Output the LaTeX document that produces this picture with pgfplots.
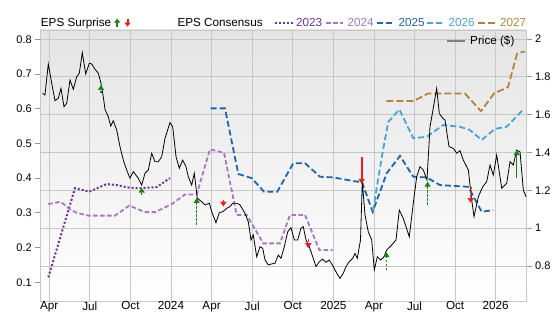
\documentclass[border=0pt]{standalone}
\usepackage{fontspec}
\setmainfont{Liberation Sans}
\usepackage{pgfplots}
\usepackage{pgfplotstable}
\pgfplotsset{compat=1.18}
\usetikzlibrary{arrows.meta}
\definecolor{cA}{RGB}{110,50,150}
\definecolor{cB}{RGB}{165,120,195}
\definecolor{cC}{RGB}{30,100,175}
\definecolor{cD}{RGB}{70,165,215}
\definecolor{cE}{RGB}{180,130,60}
\definecolor{gridc}{RGB}{200,200,200}
\definecolor{tickc}{RGB}{150,150,150}
\definecolor{bgtop}{RGB}{228,228,228}
\definecolor{bgmid}{RGB}{248,248,248}
\definecolor{upc}{RGB}{25,130,25}
\definecolor{dnc}{RGB}{235,30,30}

\pgfplotstableread{
m p
2.517 1.713
2.687 1.704
2.931 1.868
3.183 1.766
3.426 1.674
3.670 1.687
3.870 1.739
4.092 1.642
4.291 1.660
4.535 1.783
4.779 1.734
5.030 1.801
5.222 1.819
5.444 1.928
5.696 1.815
5.962 1.872
6.139 1.868
6.383 1.840
6.627 1.819
6.826 1.766
6.996 1.695
7.122 1.628
7.366 1.589
7.543 1.540
7.735 1.568
7.987 1.519
8.231 1.431
8.475 1.360
8.674 1.317
8.970 1.264
9.214 1.299
9.583 1.264
9.834 1.228
10.078 1.290
10.322 1.308
10.574 1.396
10.817 1.351
11.061 1.351
11.313 1.378
11.557 1.475
11.926 1.558
12.126 1.536
12.370 1.378
12.613 1.317
12.865 1.360
13.109 1.325
13.279 1.272
13.530 1.228
13.722 1.290
13.944 1.158
14.269 1.140
14.513 1.123
14.831 1.132
15.008 1.087
15.326 1.029
15.570 1.082
15.821 1.087
16.117 1.105
16.361 1.114
16.560 1.132
16.856 1.132
17.100 1.123
17.469 1.079
17.713 1.034
17.913 0.938
18.083 0.964
18.334 0.849
18.578 0.902
18.778 0.894
18.948 0.832
19.191 0.806
19.443 0.811
19.687 0.815
19.931 0.858
20.130 0.841
20.374 0.902
20.625 0.981
20.869 1.003
21.113 0.938
21.364 0.938
21.608 1.000
21.778 1.008
21.978 0.938
22.222 0.902
22.473 0.849
22.717 0.797
22.961 0.823
23.212 0.836
23.456 0.820
23.700 0.832
23.996 0.797
24.247 0.762
24.491 0.735
24.735 0.762
24.934 0.797
25.178 0.823
25.429 0.841
25.599 0.867
25.770 0.841
26.006 0.938
26.139 1.246
26.338 1.070
26.582 0.981
26.834 0.938
27.026 0.779
27.248 0.849
27.499 0.832
27.743 0.849
27.942 0.885
28.312 0.911
28.630 0.938
28.874 1.096
29.169 1.052
29.369 1.008
29.613 0.955
29.908 1.132
30.160 1.272
30.403 1.325
30.647 1.308
30.920 1.255
31.143 1.536
31.638 1.739
31.830 1.607
32.081 1.581
32.251 1.572
32.547 1.431
32.865 1.422
33.116 1.396
33.360 1.410
33.604 1.360
33.974 1.308
34.225 1.149
34.395 1.061
34.713 1.166
35.038 1.219
35.334 1.246
35.578 1.334
35.822 1.281
36.073 1.387
36.443 1.211
36.812 1.237
37.056 1.351
37.300 1.334
37.552 1.413
37.796 1.404
38.040 1.202
38.240 1.166
}\price

\pgfplotstableread{
m v
2.930 0.114
4.905 0.371
5.962 0.361
7.248 0.383
7.987 0.380
8.970 0.372
9.709 0.371
10.943 0.374
11.926 0.400
}\epsA

\pgfplotstableread{
m v
2.930 0.325
3.848 0.332
4.535 0.310
5.030 0.300
5.888 0.292
7.861 0.292
8.918 0.321
10.078 0.302
10.817 0.302
12.052 0.325
13.035 0.353
13.899 0.353
14.882 0.483
15.917 0.473
16.856 0.294
17.595 0.294
18.822 0.212
20.056 0.212
20.795 0.294
21.904 0.294
22.961 0.193
23.951 0.193
}\epsB

\pgfplotstableread{
m v
14.934 0.601
15.991 0.601
16.974 0.412
17.965 0.400
18.874 0.361
19.857 0.361
21.039 0.443
21.904 0.443
23.013 0.404
23.996 0.402
25.725 0.390
26.100 0.390
26.907 0.303
27.942 0.414
28.925 0.464
29.908 0.404
30.899 0.402
31.882 0.380
33.974 0.375
34.964 0.303
35.822 0.308
}\epsC

\pgfplotstableread{
m v
26.930 0.305
27.300 0.395
27.669 0.481
28.061 0.562
28.874 0.598
29.908 0.515
30.899 0.519
32.126 0.553
33.360 0.548
34.078 0.539
34.964 0.510
35.947 0.542
36.812 0.548
37.920 0.593
38.164 0.593
}\epsD

\pgfplotstableread{
m v
27.913 0.622
29.908 0.622
31.017 0.644
33.730 0.644
34.912 0.593
35.873 0.644
36.907 0.662
37.573 0.758
37.994 0.764
38.164 0.764
}\epsE

\pgfplotstableread{
m p d
6.826 1.713 0.044
9.834 1.175 0.039
13.899 1.017 0.143
27.913 0.779 0.095
30.965 1.123 0.123
}\upd
\pgfplotstableread{
m p d
37.550 1.265 0.148
}\ups
\pgfplotstableread{
m p d
15.870 1.149 -0.035
22.148 0.941 -0.047
34.152 1.219 -0.086
}\dnd
\pgfplotstableread{
m p d
26.095 1.376 -0.142
}\dns

\tikzset{lbl/.style={font=\fontsize{11.7}{13}\selectfont}}
\pgfplotsset{
  base/.style={scale only axis, width=486.4pt, height=271pt,
    at={(40.3pt,14pt)}, anchor=south west, xmin=2.34, xmax=38.29},
}

\begin{document}
\begin{tikzpicture}
\useasboundingbox (0pt,0pt) rectangle (556pt,315pt);
% price scale: background, grid, right ticks
\begin{axis}[base, ymin=0.6152, ymax=2.0476,
  axis background/.style={shade, top color=bgtop, middle color=bgmid, bottom color=white},
  axis line style={draw=gridc, line width=0.8pt},
  xtick={3,6,...,36}, xticklabels={},
  ytick={0.8,1,1.2,1.4,1.6,1.8,2}, yticklabels={0.8,1,1.2,1.4,1.6,1.8,2},
  ytick pos=right, yticklabel pos=right,
  xmajorgrids, ymajorgrids, grid style={draw=gridc, line width=0.8pt},
  tick align=outside, major tick length=5pt,
  xtick style={draw=none}, ytick style={draw=tickc, line width=0.8pt},
  yticklabel style={font=\fontsize{11}{13}\selectfont},
]
\end{axis}
% EPS scale
\begin{axis}[base, ymin=0.046, ymax=0.8268,
  axis line style={draw=none},
  xtick={3,6,...,36},
  xticklabels={Apr,Jul,Oct,2024,Apr,Jul,Oct,2025,Apr,Jul,Oct,2026},
  ytick={0.1,0.2,0.3,0.4,0.5,0.6,0.7,0.8},
  yticklabels={0.1,0.2,0.3,0.4,0.5,0.6,0.7,0.8},
  ytick pos=left, xtick pos=bottom,
  tick align=outside, major tick length=5pt,
  xtick style={draw=none}, ytick style={draw=tickc, line width=0.8pt},
  yticklabel style={font=\fontsize{11}{13}\selectfont},
  xticklabel style={lbl, inner sep=0pt, anchor=north, yshift=4.5pt},
]
\addplot[cA, line width=2pt, dash pattern=on 2pt off 2pt] table[x=m,y=v] {\epsA};
\addplot[cB, line width=1.8pt, dash pattern=on 4.5pt off 2.5pt] table[x=m,y=v] {\epsB};
\addplot[cC, line width=1.8pt, dash pattern=on 6pt off 3pt] table[x=m,y=v] {\epsC};
\addplot[cD, line width=1.8pt, dash pattern=on 6pt off 3pt] table[x=m,y=v] {\epsD};
\addplot[cE, line width=1.8pt, dash pattern=on 7pt off 3pt] table[x=m,y=v] {\epsE};
\end{axis}
% price line and surprises
\begin{axis}[base, ymin=0.6152, ymax=2.0476, hide axis]
\addplot[black, line width=0.8pt] table[x=m,y=p] {\price};
\addplot[upc, line width=1.6pt, dash pattern=on 2.5pt off 1.5pt,
  -{Triangle[width=6pt,length=5pt]},
  quiver={u=0,v=\thisrow{d}}] table[x=m,y=p] {\upd};
\addplot[upc, line width=1.6pt,
  -{Triangle[width=6pt,length=5pt]},
  quiver={u=0,v=\thisrow{d}}] table[x=m,y=p] {\ups};
\addplot[dnc, line width=1.6pt, dash pattern=on 2.5pt off 1.5pt,
  -{Triangle[width=6pt,length=5pt]},
  quiver={u=0,v=\thisrow{d}}] table[x=m,y=p] {\dnd};
\addplot[dnc, line width=1.6pt,
  -{Triangle[width=6pt,length=5pt]},
  quiver={u=0,v=\thisrow{d}}] table[x=m,y=p] {\dns};
\end{axis}
% legend
\node[lbl, anchor=base west, inner sep=0pt] at (40.7pt,288.3pt) {EPS Surprise};
\draw[upc, line width=2pt, -{Triangle[width=6pt,length=4pt]}] (117.2pt,288.3pt) -- (117.2pt,296.3pt);
\draw[dnc, line width=2pt, -{Triangle[width=6pt,length=4pt]}] (127.5pt,296.3pt) -- (127.5pt,288.3pt);
\node[lbl, anchor=base west, inner sep=0pt] at (177.3pt,288.3pt) {EPS Consensus};
\draw[cA, line width=2pt, dash pattern=on 2pt off 2pt] (275pt,292.3pt) -- (293.3pt,292.3pt);
\node[lbl, anchor=base west, inner sep=0pt, text=cA] at (296pt,288.3pt) {2023};
\draw[cB, line width=1.8pt, dash pattern=on 4.5pt off 2.5pt] (326pt,292.3pt) -- (342.7pt,292.3pt);
\node[lbl, anchor=base west, inner sep=0pt, text=cB] at (347.3pt,288.3pt) {2024};
\draw[cC, line width=1.8pt, dash pattern=on 6pt off 3pt] (376.7pt,292.3pt) -- (394pt,292.3pt);
\node[lbl, anchor=base west, inner sep=0pt, text=cC] at (398.3pt,288.3pt) {2025};
\draw[cD, line width=1.8pt, dash pattern=on 6pt off 3pt] (427.3pt,292.3pt) -- (445pt,292.3pt);
\node[lbl, anchor=base west, inner sep=0pt, text=cD] at (448.3pt,288.3pt) {2026};
\draw[cE, line width=1.8pt, dash pattern=on 7pt off 3pt] (478.3pt,292.3pt) -- (496.7pt,292.3pt);
\node[lbl, anchor=base west, inner sep=0pt, text=cE] at (500pt,288.3pt) {2027};
\draw[gray, line width=1.5pt] (447.3pt,274pt) -- (465pt,274pt);
\node[lbl, anchor=base west, inner sep=0pt] at (470pt,270pt) {Price (\$)};
\end{tikzpicture}
\end{document}
